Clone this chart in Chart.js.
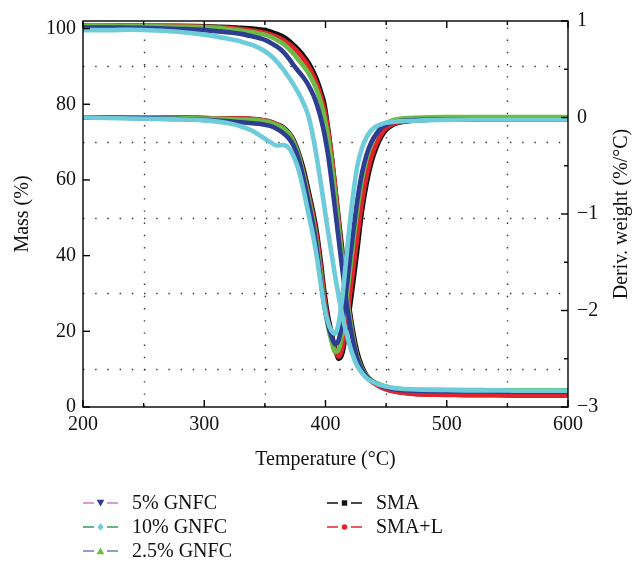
<!DOCTYPE html>
<html>
<head>
<meta charset="utf-8">
<script src="https://cdn.jsdelivr.net/npm/chart.js@4.4.1/dist/chart.umd.min.js"></script>
<style>
  html, body { margin: 0; padding: 0; background: #fff; }
</style>
</head>
<body>
<canvas id="tga" width="634" height="571"></canvas>
<script>
// temperature grid (°C), shared by every curve
const temps = [200,220,240,260,280,300,320,330,340,345,350,355,360,365,370,374,378,382,386,390,
  393,396,399,402,405,408,411,414,417,420,423,426,430,434,438,442,446,450,455,460,
  470,480,500,520,540,560,580,600];

// mass (%) - left axis
const massSMA  = [100.8,100.8,100.8,100.7,100.7,100.6,100.4,100.2,100.0,99.8,99.6,99.2,98.6,97.9,96.8,95.6,94.3,92.8,91.0,88.6,
  86.4,83.6,80.2,74.0,66.5,58.0,49.5,41.0,33.0,25.5,19.5,14.8,10.8,8.3,6.9,6.0,5.3,4.8,4.3,4.0,
  3.6,3.4,3.3,3.2,3.2,3.1,3.1,3.1];
const massSMAL = [100.8,100.8,100.7,100.7,100.6,100.5,100.2,99.9,99.5,99.2,98.9,98.4,97.8,97.0,95.9,94.8,93.5,91.9,90.0,87.5,
  85.2,82.3,78.6,73.5,66.5,58.0,48.5,39.5,31.0,24.0,18.0,13.5,10.0,7.9,6.7,5.9,5.2,4.7,4.2,3.9,
  3.5,3.3,3.2,3.1,3.1,3.0,3.0,3.0];
const massG25  = [100.8,100.8,100.7,100.6,100.5,100.4,99.9,99.5,99.0,98.7,98.4,97.8,97.0,96.0,94.6,93.2,91.6,90.0,88.2,85.8,
  83.6,80.6,76.8,71.5,64.5,56.0,47.0,38.5,30.5,23.5,17.8,13.5,10.2,8.2,7.0,6.3,5.8,5.4,5.0,4.8,
  4.6,4.5,4.5,4.5,4.4,4.4,4.4,4.4];
const massG5   = [100.3,100.3,100.2,100.1,99.9,99.6,99.0,98.6,97.9,97.5,97.0,96.2,95.2,93.9,92.0,90.2,88.6,87.0,85.0,82.4,
  79.8,76.5,72.3,66.8,59.8,52.0,44.0,36.0,28.5,22.0,17.0,13.0,9.8,8.0,6.9,6.2,5.6,5.2,4.8,4.6,
  4.4,4.3,4.2,4.2,4.1,4.1,4.1,4.1];
const massG10  = [99.6,99.6,99.7,99.5,99.1,98.4,97.3,96.6,95.6,94.9,94.0,92.8,91.2,89.3,87.0,85.0,82.8,80.2,76.8,71.0,
  65.5,59.5,53.0,46.5,40.5,34.5,29.0,24.0,19.8,16.2,13.3,11.0,9.0,7.6,6.8,6.2,5.7,5.4,5.1,4.9,
  4.7,4.6,4.5,4.4,4.4,4.3,4.3,4.3];

// derivative weight (%/°C) - right axis
const derivSMA  = [0,0,0,0,0,-0.005,-0.01,-0.01,-0.015,-0.02,-0.03,-0.045,-0.07,-0.1,-0.16,-0.24,-0.37,-0.54,-0.76,-0.99,
  -1.2,-1.48,-1.8,-2.05,-2.23,-2.4,-2.5,-2.44,-2.22,-1.98,-1.7,-1.4,-0.98,-0.68,-0.46,-0.31,-0.2,-0.13,-0.08,-0.055,
  -0.035,-0.025,-0.02,-0.015,-0.01,-0.01,-0.01,-0.01];
const derivSMAL = [0,0,0,0,0,-0.005,-0.01,-0.01,-0.015,-0.02,-0.03,-0.045,-0.07,-0.11,-0.17,-0.26,-0.4,-0.58,-0.8,-1.03,
  -1.25,-1.54,-1.86,-2.1,-2.27,-2.42,-2.48,-2.38,-2.13,-1.86,-1.56,-1.26,-0.88,-0.6,-0.4,-0.27,-0.17,-0.11,-0.07,-0.05,
  -0.03,-0.02,-0.015,-0.01,-0.01,-0.01,-0.01,-0.01];
const derivG25  = [0,0,0,0,-0.005,-0.01,-0.015,-0.02,-0.025,-0.03,-0.04,-0.055,-0.08,-0.11,-0.17,-0.26,-0.4,-0.6,-0.83,-1.08,
  -1.32,-1.62,-1.93,-2.16,-2.32,-2.43,-2.4,-2.22,-1.92,-1.6,-1.28,-0.98,-0.65,-0.42,-0.27,-0.17,-0.1,-0.06,-0.03,-0.015,
  -0.005,0,0.005,0.005,0.005,0.005,0.005,0.005];
const derivG5   = [0,0,-0.005,-0.01,-0.015,-0.025,-0.04,-0.05,-0.06,-0.065,-0.075,-0.09,-0.12,-0.16,-0.22,-0.3,-0.44,-0.64,-0.88,-1.13,
  -1.38,-1.68,-1.95,-2.14,-2.27,-2.35,-2.3,-2.1,-1.8,-1.48,-1.17,-0.88,-0.58,-0.38,-0.25,-0.17,-0.11,-0.075,-0.05,-0.04,
  -0.03,-0.025,-0.02,-0.02,-0.02,-0.02,-0.02,-0.02];
const derivG10  = [0,-0.005,-0.01,-0.015,-0.02,-0.03,-0.06,-0.09,-0.14,-0.18,-0.22,-0.26,-0.29,-0.285,-0.32,-0.41,-0.55,-0.76,-1.0,-1.24,
  -1.46,-1.72,-1.96,-2.12,-2.21,-2.24,-2.12,-1.85,-1.48,-1.1,-0.78,-0.52,-0.32,-0.2,-0.13,-0.09,-0.07,-0.055,-0.045,-0.04,
  -0.035,-0.03,-0.025,-0.02,-0.02,-0.02,-0.02,-0.02];

// ticks
const xTicks = [200,300,400,500,600];
const xMinor = [250,350,450,550];
const massTicks = [0,20,40,60,80,100];
const massMinor = [10,30,50,70,90];
const derivTicks = [-3,-2,-1,0,1];
const derivMinor = [-2.5,-1.5,-0.5,0.5];

// first one is drawn on top
const series = [
  {label: '10% GNFC',  mass: massG10,  deriv: derivG10,  color: '#6ecbda', dash: '#3a9a5c', marker: 'diamond'},
  {label: '5% GNFC',   mass: massG5,   deriv: derivG5,   color: '#2d3d92', dash: '#cf7cc6', marker: 'triDown'},
  {label: '2.5% GNFC', mass: massG25,  deriv: derivG25,  color: '#6cbb45', dash: '#6a7ec6', marker: 'triUp'},
  {label: 'SMA+L',     mass: massSMAL, deriv: derivSMAL, color: '#e2232b', dash: '#e2232b', marker: 'circle'},
  {label: 'SMA',       mass: massSMA,  deriv: derivSMA,  color: '#111111', dash: '#111111', marker: 'square'}
];

const FONT = "'Liberation Serif', 'DejaVu Serif', serif";
const pts = vals => temps.map((t, i) => ({x: t, y: vals[i]}));

const datasets = [];
series.forEach(s => {
  ['mass', 'deriv'].forEach(axis => {
    datasets.push({
      label: s.label,
      data: pts(s[axis]),
      yAxisID: axis,
      borderColor: s.color,
      backgroundColor: s.color,
      borderWidth: 4.6,
      pointRadius: 0,
      cubicInterpolationMode: 'monotone',
      fill: false
    });
  });
});

function drawMarker(ctx, type, cx, cy, color) {
  ctx.fillStyle = color;
  ctx.beginPath();
  if (type === 'triDown') {
    ctx.moveTo(cx - 3.8, cy - 3.2); ctx.lineTo(cx + 3.8, cy - 3.2); ctx.lineTo(cx, cy + 3.6);
  } else if (type === 'triUp') {
    ctx.moveTo(cx - 3.8, cy + 3.2); ctx.lineTo(cx + 3.8, cy + 3.2); ctx.lineTo(cx, cy - 3.6);
  } else if (type === 'diamond') {
    ctx.moveTo(cx, cy - 3.8); ctx.lineTo(cx + 3.2, cy); ctx.lineTo(cx, cy + 3.8); ctx.lineTo(cx - 3.2, cy);
  } else if (type === 'square') {
    ctx.rect(cx - 2.7, cy - 2.7, 5.4, 5.4);
  } else {
    ctx.arc(cx, cy, 2.8, 0, Math.PI * 2);
  }
  ctx.closePath();
  ctx.fill();
}

const frame = {
  id: 'frame',
  beforeDatasetsDraw(chart) {
    const {ctx, chartArea: a, scales} = chart;
    ctx.save();
    ctx.strokeStyle = '#333';
    ctx.lineWidth = 1.4;
    ctx.setLineDash([1.4, 10.8]);
    xMinor.forEach(v => {
      const px = Math.round(scales.x.getPixelForValue(v)) + 0.5;
      ctx.beginPath(); ctx.moveTo(px, a.bottom); ctx.lineTo(px, a.top); ctx.stroke();
    });
    massMinor.forEach(v => {
      const py = Math.round(scales.mass.getPixelForValue(v)) + 0.5;
      ctx.beginPath(); ctx.moveTo(a.left, py); ctx.lineTo(a.right, py); ctx.stroke();
    });
    ctx.restore();
  },
  afterDatasetsDraw(chart) {
    const {ctx, chartArea: a, scales} = chart;
    ctx.save();
    ctx.strokeStyle = '#000';
    ctx.lineWidth = 1.4;
    ctx.strokeRect(a.left, a.top, a.right - a.left, a.bottom - a.top);
    const tick = (x1, y1, x2, y2) => { ctx.beginPath(); ctx.moveTo(x1, y1); ctx.lineTo(x2, y2); ctx.stroke(); };
    xTicks.concat(xMinor).forEach(v => {
      const px = scales.x.getPixelForValue(v);
      const len = xTicks.includes(v) ? 7 : 4;
      tick(px, a.bottom, px, a.bottom - len);
      tick(px, a.top, px, a.top + len);
    });
    massTicks.forEach(v => {
      const py = scales.mass.getPixelForValue(v);
      tick(a.left, py, a.left + 7, py);
    });
    derivTicks.concat(derivMinor).forEach(v => {
      const py = scales.deriv.getPixelForValue(v);
      const len = derivTicks.includes(v) ? 7 : 4;
      tick(a.right, py, a.right - len, py);
    });
    ctx.restore();
  },
  afterDraw(chart) {
    const {ctx, chartArea: a} = chart;
    ctx.save();
    // right axis title, reading bottom to top
    ctx.fillStyle = '#111';
    ctx.font = '20px ' + FONT;
    ctx.textAlign = 'center';
    ctx.textBaseline = 'middle';
    ctx.translate(622, (a.top + a.bottom) / 2);
    ctx.rotate(-Math.PI / 2);
    ctx.fillText('Deriv. weight (%/°C)', 0, 0);
    ctx.restore();

    // legend: two columns
    const slots = {
      '5% GNFC': [83, 503], '10% GNFC': [83, 527], '2.5% GNFC': [83, 551],
      'SMA': [327, 503], 'SMA+L': [327, 527]
    };
    ctx.save();
    ctx.font = '20px ' + FONT;
    ctx.textBaseline = 'middle';
    series.forEach(s => {
      const [x0, y0] = slots[s.label];
      ctx.strokeStyle = s.dash;
      ctx.lineWidth = 1.6;
      ctx.beginPath();
      ctx.moveTo(x0, y0); ctx.lineTo(x0 + 11, y0);
      ctx.moveTo(x0 + 24, y0); ctx.lineTo(x0 + 35, y0);
      ctx.stroke();
      drawMarker(ctx, s.marker, x0 + 17.5, y0, s.color);
      ctx.fillStyle = '#111';
      ctx.textAlign = 'left';
      ctx.fillText(s.label, x0 + 49, y0 + 1);
    });
    ctx.restore();
  }
};

const tickFont = {family: FONT, size: 20};
const noGrid = {display: false, drawTicks: false, tickLength: 0};

new Chart(document.getElementById('tga'), {
  type: 'line',
  data: {datasets},
  options: {
    responsive: false,
    animation: false,
    devicePixelRatio: 1,
    layout: {padding: {top: 16, bottom: 94, left: 0, right: 0}},
    plugins: {legend: {display: false}, tooltip: {enabled: false}},
    scales: {
      x: {
        type: 'linear', min: 200, max: 600,
        grid: noGrid, border: {display: false},
        afterBuildTicks: sc => { sc.ticks = xTicks.map(v => ({value: v})); },
        afterFit: sc => { sc.height = 70; },
        ticks: {font: tickFont, color: '#111', padding: 6, maxRotation: 0},
        title: {display: true, text: 'Temperature (°C)', font: tickFont, color: '#111', padding: {top: 0, bottom: 5}}
      },
      mass: {
        type: 'linear', position: 'left', min: 0, max: 102,
        grid: noGrid, border: {display: false},
        afterBuildTicks: sc => { sc.ticks = massTicks.map(v => ({value: v})); },
        afterFit: sc => { sc.width = 83; },
        ticks: {font: tickFont, color: '#111', padding: 7},
        title: {display: true, text: 'Mass (%)', font: tickFont, color: '#111', padding: {top: 11, bottom: 0}}
      },
      deriv: {
        type: 'linear', position: 'right', min: -3, max: 1,
        grid: noGrid, border: {display: false},
        afterBuildTicks: sc => { sc.ticks = derivTicks.map(v => ({value: v})); },
        afterFit: sc => { sc.width = 66; },
        ticks: {font: tickFont, color: '#111', padding: 9,
          callback: v => String(v).replace('-', '\u2212')}
      }
    }
  },
  plugins: [frame]
});
</script>
</body>
</html>
